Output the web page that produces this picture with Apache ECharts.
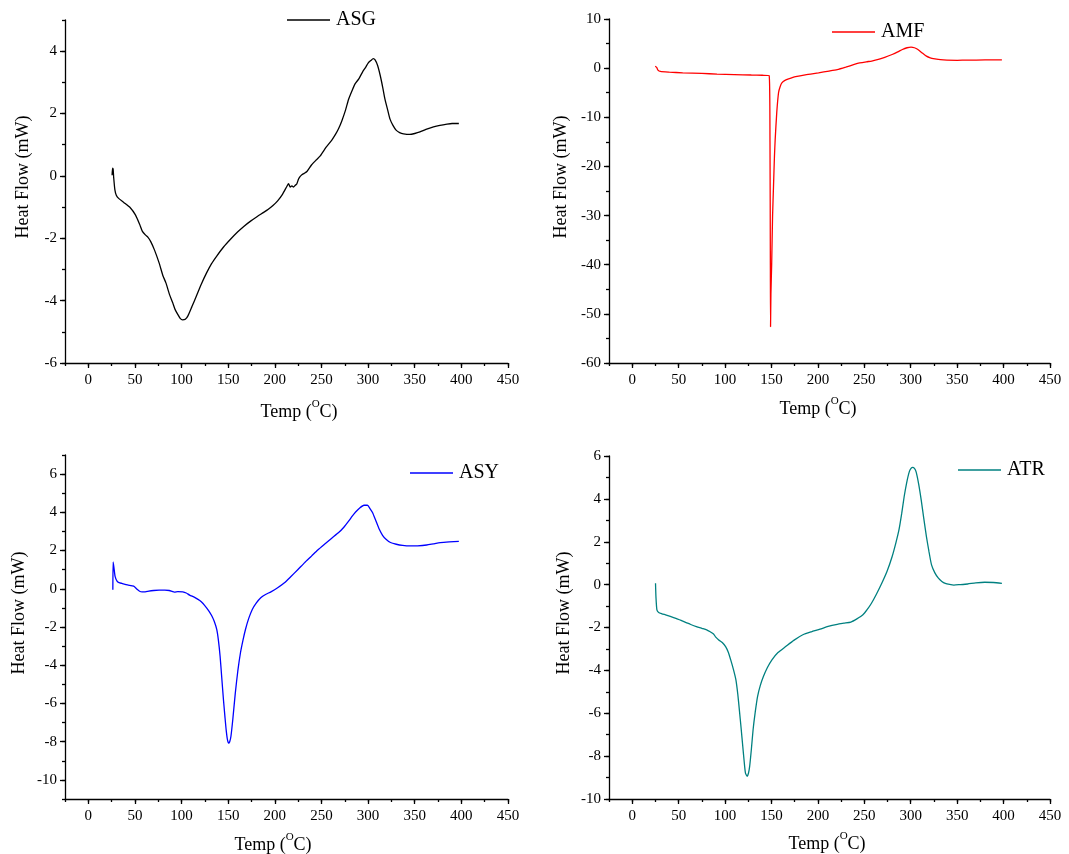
<!DOCTYPE html>
<html>
<head>
<meta charset="utf-8">
<title>DSC curves</title>
<script src="https://cdn.jsdelivr.net/npm/echarts@6/dist/echarts.min.js"></script>
<style>
  html, body { margin: 0; padding: 0; background: #fff; }
  #chart { width: 1069px; height: 854px; }
</style>
</head>
<body>
<div id="chart"></div>
<script>
// Temperature (°C) and heat flow (mW) for each sample
const asgTemp = [25.5, 26.0, 26.6, 27.2, 28.5, 30, 32.5, 38, 45, 50.5, 55, 58, 61.4, 64, 66.8, 71, 75.9, 80, 83.2, 87, 90.4, 93, 95.9, 98.5, 101, 104, 106.8, 111, 115.9, 121, 126.8, 132, 137.7, 145, 152.2, 160, 166.7, 174, 181.2, 188, 193, 198, 203, 208, 213, 214.7, 216.5, 218.3, 220, 221.9, 223.5, 225.4, 227, 229, 231.5, 234.4, 239.3, 244, 248.7, 255, 261.1, 265, 268.4, 272, 275.7, 279, 282.9, 286, 290.2, 294, 297.5, 300, 302.9, 305.5, 307.5, 310.2, 313, 315.6, 318, 321.1, 323.5, 326.5, 330, 333.8, 338, 344.7, 350, 355.6, 362, 370.1, 377, 384.6, 390, 397.3];
const asgFlow = [0.02, 0.25, 0.22, -0.05, -0.45, -0.62, -0.72, -0.85, -1.02, -1.25, -1.55, -1.78, -1.9, -1.97, -2.1, -2.38, -2.79, -3.2, -3.43, -3.8, -4.06, -4.28, -4.44, -4.57, -4.62, -4.6, -4.49, -4.2, -3.85, -3.48, -3.11, -2.82, -2.57, -2.28, -2.04, -1.8, -1.62, -1.45, -1.3, -1.17, -1.07, -0.95, -0.8, -0.6, -0.33, -0.25, -0.36, -0.32, -0.36, -0.3, -0.26, -0.1, -0.02, 0.04, 0.08, 0.14, 0.35, 0.5, 0.64, 0.92, 1.15, 1.33, 1.52, 1.78, 2.1, 2.45, 2.74, 2.95, 3.12, 3.33, 3.49, 3.62, 3.7, 3.76, 3.72, 3.54, 3.22, 2.85, 2.47, 2.1, 1.82, 1.63, 1.47, 1.39, 1.35, 1.33, 1.36, 1.41, 1.49, 1.57, 1.62, 1.66, 1.68, 1.68];

const amfTemp = [24.8, 26.5, 27.7, 30.3, 40, 54.4, 75, 91.3, 110, 128.3, 140, 147.5, 148.4, 148.8, 149.0, 149.4, 150.2, 151.2, 152.2, 153.2, 154, 155.7, 157.6, 159.3, 161.2, 165, 168.4, 176, 186.4, 200.7, 212, 220.8, 230, 239.2, 245, 252.2, 258, 265.1, 272, 280, 286, 291, 296, 300.3, 304, 307.7, 312, 316.9, 321, 326.1, 332, 339, 350, 361, 380, 398.2];
const amfFlow = [0.41, 0.1, -0.41, -0.68, -0.82, -0.95, -1.08, -1.2, -1.3, -1.4, -1.45, -1.5, -15, -40, -52.6, -46, -40, -30, -24, -18, -14.5, -9, -5, -3.8, -3, -2.45, -2.2, -1.75, -1.35, -0.95, -0.6, -0.3, 0.2, 0.75, 1.05, 1.29, 1.45, 1.76, 2.2, 2.78, 3.3, 3.8, 4.15, 4.28, 4.15, 3.8, 3.15, 2.44, 2.1, 1.9, 1.72, 1.63, 1.6, 1.63, 1.67, 1.7];

const asyTemp = [26.3, 26.6, 27.5, 28.7, 30.8, 33, 36, 42, 48.6, 52.3, 55, 57.6, 61, 65, 70, 75.9, 82, 86.8, 90, 92.3, 96, 101.3, 105, 108.6, 114, 119.5, 123, 126.8, 129.5, 132.2, 135, 137.7, 139.5, 141.3, 143, 144.9, 146.5, 147.8, 149.2, 150.4, 151.6, 152.9, 155, 157.6, 160.3, 163.1, 165.8, 168.5, 172, 175.8, 180, 184.9, 190, 195.8, 203, 210.3, 217, 224.8, 232, 239.3, 246, 253.9, 261, 268.4, 274, 279.3, 283, 286.6, 291, 295.6, 299.3, 302, 304.7, 308, 312, 315.5, 319.2, 324, 330.2, 337, 344.7, 353, 362.8, 370, 377.4, 387, 397.3];
const asyFlow = [-0.05, 1.4, 1.1, 0.65, 0.4, 0.32, 0.28, 0.2, 0.14, -0.03, -0.13, -0.16, -0.16, -0.12, -0.09, -0.07, -0.07, -0.09, -0.14, -0.17, -0.15, -0.16, -0.22, -0.33, -0.45, -0.61, -0.77, -1.0, -1.18, -1.4, -1.7, -2.13, -2.7, -3.53, -4.6, -5.81, -6.7, -7.38, -7.9, -8.08, -8.0, -7.73, -6.8, -5.46, -4.3, -3.36, -2.7, -2.13, -1.55, -1.08, -0.75, -0.47, -0.3, -0.16, 0.05, 0.31, 0.63, 1.01, 1.37, 1.71, 2.03, 2.36, 2.65, 2.94, 3.22, 3.55, 3.8, 4.02, 4.23, 4.37, 4.37, 4.2, 3.99, 3.6, 3.11, 2.8, 2.59, 2.42, 2.33, 2.27, 2.24, 2.25, 2.29, 2.35, 2.41, 2.45, 2.48];

const atrTemp = [25.1, 25.6, 26.6, 28.5, 32, 35.9, 41, 47, 52, 58.1, 63, 69.1, 75, 80.2, 84, 87.6, 90, 93.2, 97, 100.6, 103.5, 106.1, 109, 111.7, 113.7, 115.4, 117.3, 119.1, 120.7, 122, 123.9, 125.2, 126.5, 128.3, 130.2, 132.5, 135, 138, 141.3, 145.5, 150.5, 157, 165.3, 174, 183.8, 193, 202.3, 211, 220.8, 228, 235.5, 242, 248.5, 253, 257.7, 263, 268.8, 274.5, 279.9, 284, 287.3, 290.2, 292.9, 295.6, 298.4, 300.3, 302.1, 304, 305.8, 308.5, 311.3, 314, 316.9, 319.6, 322.4, 326, 329.8, 333.5, 337.2, 341.8, 346.5, 353, 361.3, 370, 379.7, 389, 398.2];
const atrFlow = [0.06, -0.6, -1.18, -1.3, -1.36, -1.41, -1.48, -1.57, -1.66, -1.77, -1.86, -1.96, -2.04, -2.11, -2.2, -2.3, -2.45, -2.58, -2.7, -2.89, -3.15, -3.51, -3.95, -4.44, -5.1, -5.84, -6.7, -7.55, -8.3, -8.79, -8.94, -8.8, -8.48, -7.7, -6.77, -5.95, -5.22, -4.7, -4.29, -3.88, -3.51, -3.17, -2.89, -2.6, -2.34, -2.2, -2.08, -1.95, -1.85, -1.8, -1.75, -1.6, -1.41, -1.17, -0.87, -0.45, 0.06, 0.62, 1.3, 1.95, 2.55, 3.3, 4.1, 4.75, 5.26, 5.42, 5.47, 5.42, 5.26, 4.7, 3.94, 3.1, 2.24, 1.55, 0.92, 0.55, 0.3, 0.15, 0.06, 0.01, -0.02, 0.0, 0.03, 0.08, 0.11, 0.1, 0.06];

// Axis ticks
const tempTicks = [0, 50, 100, 150, 200, 250, 300, 350, 400, 450];
const asgTicks = [-6, -4, -2, 0, 2, 4];
const amfTicks = [-60, -50, -40, -30, -20, -10, 0, 10];
const asyTicks = [-10, -8, -6, -4, -2, 0, 2, 4, 6];
const atrTicks = [-10, -8, -6, -4, -2, 0, 2, 4, 6];

const FONT = '"Liberation Serif", "Times New Roman", serif';
const INK = '#000';

const panels = [
  { name: 'ASG', temp: asgTemp, flow: asgFlow, color: '#000000', yMin: -6, yMax: 5, yStep: 1, yTicks: asgTicks,
    grid: { left: 65, top: 20, width: 443, height: 343 },
    legend: { left: 287, top: 10 }, yTitle: [23, 177], xTitle: [299, 410] },
  { name: 'AMF', temp: amfTemp, flow: amfFlow, color: '#ff0000', yMin: -60, yMax: 10, yStep: 5, yTicks: amfTicks,
    grid: { left: 609, top: 19, width: 441, height: 344 },
    legend: { left: 832, top: 22 }, yTitle: [561, 177], xTitle: [818, 407] },
  { name: 'ASY', temp: asyTemp, flow: asyFlow, color: '#0000ff', yMin: -11, yMax: 7, yStep: 1, yTicks: asyTicks,
    grid: { left: 65, top: 455, width: 443, height: 344 },
    legend: { left: 410, top: 463 }, yTitle: [19, 613], xTitle: [273, 843] },
  { name: 'ATR', temp: atrTemp, flow: atrFlow, color: '#008080', yMin: -10, yMax: 6, yStep: 1, yTicks: atrTicks,
    grid: { left: 609, top: 456, width: 441, height: 343 },
    legend: { left: 958, top: 460 }, yTitle: [564, 613], xTitle: [827, 842] }
];

const axisLineStyle = { color: INK, width: 1.3 };
const labelStyle = { fontFamily: FONT, fontSize: 15, color: INK };

const grid = [], xAxis = [], yAxis = [], series = [], legend = [], graphic = [];

panels.forEach((p, i) => {
  grid.push(Object.assign({ outerBoundsMode: 'none', containLabel: false }, p.grid));

  // labelled axis with long ticks
  xAxis.push({
    type: 'value', gridIndex: i, min: -25, max: 450, position: 'bottom',
    axisLine: { show: true, onZero: false, lineStyle: axisLineStyle },
    axisTick: { show: true, inside: false, length: 5, customValues: tempTicks, lineStyle: axisLineStyle },
    axisLabel: Object.assign({ margin: 10, customValues: tempTicks }, labelStyle),
    splitLine: { show: false }
  });
  // short ticks every 25 °C
  xAxis.push({
    type: 'value', gridIndex: i, min: -25, max: 450, interval: 25, position: 'bottom',
    axisLine: { show: false, onZero: false },
    axisTick: { show: true, inside: false, length: 3, lineStyle: axisLineStyle },
    axisLabel: { show: false }, splitLine: { show: false }
  });

  yAxis.push({
    type: 'value', gridIndex: i, min: p.yMin, max: p.yMax, position: 'left',
    axisLine: { show: true, onZero: false, lineStyle: axisLineStyle },
    axisTick: { show: true, inside: false, length: 5, customValues: p.yTicks, lineStyle: axisLineStyle },
    axisLabel: Object.assign({ margin: 8, customValues: p.yTicks }, labelStyle),
    splitLine: { show: false }
  });
  yAxis.push({
    type: 'value', gridIndex: i, min: p.yMin, max: p.yMax, interval: p.yStep, position: 'left',
    axisLine: { show: false, onZero: false },
    axisTick: { show: true, inside: false, length: 3, lineStyle: axisLineStyle },
    axisLabel: { show: false }, splitLine: { show: false }
  });

  series.push({
    name: p.name, type: 'line', xAxisIndex: 2 * i, yAxisIndex: 2 * i,
    data: p.temp.map((t, k) => [t, p.flow[k]]),
    showSymbol: false, symbol: 'none', smooth: 0.2,
    lineStyle: { color: p.color, width: 1.3 }, itemStyle: { color: p.color },
    silent: true, animation: false
  });

  legend.push({
    data: [p.name], left: p.legend.left, top: p.legend.top, padding: 0,
    icon: 'rect', itemWidth: 43, itemHeight: 1.4, itemGap: 0,
    textStyle: { fontFamily: FONT, fontSize: 20, color: INK, padding: [0, 0, 0, 1] },
    selectedMode: false
  });

  graphic.push({
    type: 'text', x: p.yTitle[0], y: p.yTitle[1], rotation: Math.PI / 2,
    style: { text: 'Heat Flow (mW)', fontFamily: FONT, fontSize: 18, fill: INK, align: 'center', verticalAlign: 'middle' }
  });
  graphic.push({
    type: 'text', x: p.xTitle[0], y: p.xTitle[1],
    style: {
      text: '{n|Temp (}{s|O}{n|C)}', align: 'center', verticalAlign: 'middle', fill: INK,
      rich: {
        n: { fontFamily: FONT, fontSize: 18, lineHeight: 22, fill: INK, verticalAlign: 'bottom' },
        s: { fontFamily: FONT, fontSize: 11, lineHeight: 12, fill: INK, verticalAlign: 'top' }
      }
    }
  });
});

const chart = echarts.init(document.getElementById('chart'), null, { renderer: 'canvas' });
chart.setOption({
  backgroundColor: '#ffffff',
  animation: false,
  grid, xAxis, yAxis, series, legend, graphic
});
</script>
</body>
</html>
